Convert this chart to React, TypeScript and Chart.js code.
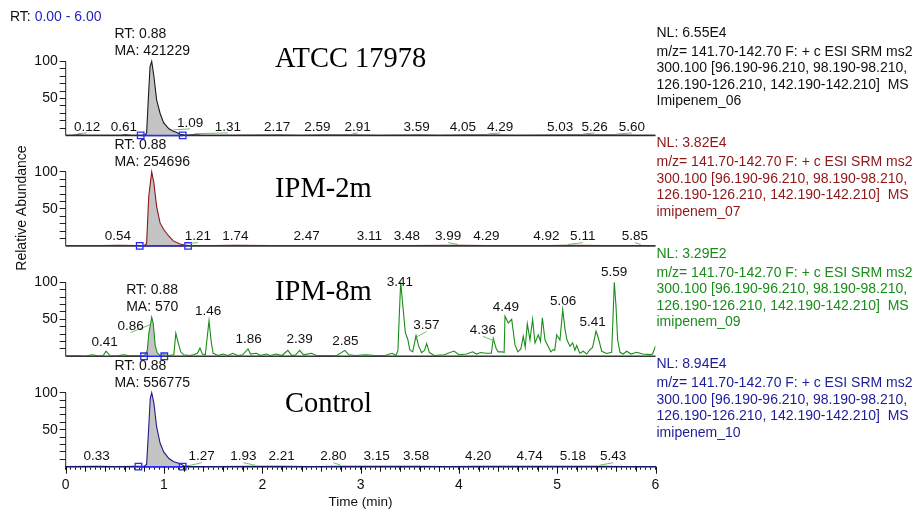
import React, { useEffect, useRef } from 'react';
import { Chart, registerables } from 'chart.js';

Chart.register(...registerables);

const FONT = "'Liberation Sans', Arial, Helvetica, sans-serif";
const SERIF = "'Liberation Serif', 'Times New Roman', serif";

// ---------------- data ----------------
const panelTitles = ['ATCC 17978', 'IPM-2m', 'IPM-8m', 'Control'];
const nlValues = ['6.55E4', '3.82E4', '3.29E2', '8.94E4'];
const fileNames = ['Imipenem_06', 'imipenem_07', 'imipenem_09', 'imipenem_10'];
const maValues = ['421229', '254696', '570', '556775'];
const mainPeakRT = 0.88;
const scanLines = [
  'm/z= 141.70-142.70 F: + c ESI SRM ms2',
  '300.100 [96.190-96.210, 98.190-98.210,',
  '126.190-126.210, 142.190-142.210]  MS',
];
const rtRangeText = '0.00 - 6.00';
const yTickValues = [10, 20, 30, 40, 50, 60, 70, 80, 90, 100];
const yLabeledTicks = [50, 100];
const xMinorTicks = Array.from({ length: 121 }, (_, i) => Math.round(i * 5) / 100);

// integration limits (min)
const integStart = [0.763, 0.753, 0.797, 0.74];
const integEnd = [1.19, 1.245, 1.003, 1.19];

// ATCC 17978 trace
const atccTimes = [0, 0.06, 0.12, 0.18, 0.4, 0.55, 0.61, 0.67, 0.78, 0.81, 0.823, 0.84, 0.858, 0.875, 0.897, 0.925, 0.96, 0.997, 1.05, 1.09, 1.13, 1.163, 1.2, 1.25, 1.31, 1.37, 1.6, 2.17, 2.4, 2.59, 2.91, 3.2, 3.59, 3.8, 4.05, 4.29, 4.6, 5.03, 5.26, 5.6, 5.8, 6];
const atccValues = [0.3, 0.2, 0.9, 0.2, 0.2, 0.3, 0.7, 0.3, 0.4, 1, 3, 48, 93, 100, 80, 48, 30, 17, 9, 6, 4, 1.6, 0.8, 0.5, 1, 0.4, 0.3, 0.5, 0.3, 0.5, 0.5, 0.3, 0.5, 0.3, 0.4, 0.5, 0.3, 0.4, 0.5, 0.5, 0.3, 0.3];

// IPM-2m trace
const ipm2Times = [0, 0.2, 0.54, 0.7, 0.8, 0.823, 0.845, 0.875, 0.897, 0.925, 0.96, 0.997, 1.05, 1.095, 1.163, 1.21, 1.25, 1.5, 1.74, 2.1, 2.47, 2.8, 3.11, 3.48, 3.99, 4.29, 4.6, 4.92, 5.11, 5.5, 5.85, 6];
const ipm2Values = [0.3, 0.2, 0.6, 0.3, 0.5, 3, 67, 100, 85, 53, 31, 22, 13, 6.7, 2.5, 1.2, 0.5, 0.3, 0.6, 0.3, 0.5, 0.3, 0.5, 0.5, 0.6, 0.5, 0.3, 0.5, 0.6, 0.3, 0.5, 0.3];

// IPM-8m trace
const ipm8Times = [
  0, 0.1, 0.2, 0.27, 0.33, 0.38, 0.41, 0.45, 0.52, 0.59,
  0.65, 0.72, 0.78, 0.81, 0.83, 0.845, 0.875, 0.89, 0.91, 0.93,
  0.96, 1.0, 1.05, 1.1, 1.12, 1.145, 1.17, 1.2, 1.26, 1.3,
  1.34, 1.366, 1.39, 1.42, 1.458, 1.48, 1.5, 1.55, 1.6, 1.65,
  1.7, 1.75, 1.8, 1.855, 1.88, 1.94, 1.98, 2.04, 2.08, 2.14,
  2.2, 2.26, 2.3, 2.34, 2.38, 2.42, 2.5, 2.55, 2.65, 2.75,
  2.84, 2.88, 2.95, 3.05, 3.15, 3.25, 3.32, 3.36, 3.38, 3.395,
  3.408, 3.43, 3.455, 3.48, 3.5, 3.53, 3.564, 3.59, 3.62, 3.65,
  3.672, 3.7, 3.75, 3.85, 3.95, 4.0, 4.08, 4.14, 4.18, 4.22,
  4.28, 4.33, 4.35, 4.38, 4.4, 4.44, 4.46, 4.469, 4.503, 4.537,
  4.571, 4.6, 4.63, 4.655, 4.675, 4.696, 4.723, 4.75, 4.774, 4.808,
  4.83, 4.849, 4.876, 4.91, 4.935, 4.96, 4.975, 4.995, 5.028, 5.056,
  5.08, 5.1, 5.13, 5.157, 5.18, 5.198, 5.23, 5.266, 5.3, 5.333,
  5.36, 5.395, 5.418, 5.453, 5.503, 5.554, 5.567, 5.581, 5.598, 5.615,
  5.639, 5.67, 5.707, 5.75, 5.809, 5.87, 5.944, 5.97, 6.0,
];
const ipm8Values = [
  0.5, 1, 0.4, 2, 0.5, 0.8, 7, 1, 0.5, 2,
  0.6, 1, 0.8, 2, 8, 30, 53, 45, 15, 5,
  1, 2, 1, 2, 31, 18, 6, 2, 1, 2,
  4, 11, 3, 2, 48, 20, 4, 1, 3, 1,
  4, 1, 2, 10, 3, 4, 1, 3, 1, 3,
  1, 8, 1, 2, 8, 2, 4, 1, 1, 0.5,
  8, 2, 1, 2, 1, 1, 4, 1, 8, 60,
  100, 68, 32, 23, 9, 6, 28, 14, 5, 8,
  17, 5, 1, 2, 7, 2, 3, 6, 3, 5,
  4, 4, 24, 10, 6, 6, 5, 54, 45, 50,
  15, 6, 10, 27, 12, 44, 22, 50, 18, 29,
  20, 52, 22, 13, 6, 9, 8, 29, 22, 63,
  36, 22, 13.5, 18, 8, 14.5, 4, 6.8, 3, 9,
  12, 34, 25, 6.8, 3.7, 5.4, 50, 100, 68, 22,
  5.4, 3, 6.8, 3, 5.4, 3, 2.3, 3, 13.5,
];

// Control trace
const ctrlTimes = [0, 0.33, 0.5, 0.74, 0.8, 0.823, 0.845, 0.86, 0.875, 0.897, 0.925, 0.96, 0.997, 1.05, 1.095, 1.163, 1.2, 1.27, 1.5, 1.93, 2.21, 2.5, 2.8, 3.15, 3.58, 3.9, 4.2, 4.74, 5.18, 5.43, 5.7, 6];
const ctrlValues = [0.3, 0.6, 0.3, 0.4, 0.6, 3, 54, 92, 100, 86, 54, 32, 20, 11, 7, 4, 1.2, 0.6, 0.3, 0.6, 0.5, 0.3, 0.5, 0.6, 0.5, 0.3, 0.5, 0.5, 0.5, 0.6, 0.3, 0.3];

// peak labels: text, label anchor time, label level (%)
const atccPeakLabels = ['0.12', '0.61', '1.09', '1.31', '2.17', '2.59', '2.91', '3.59', '4.05', '4.29', '5.03', '5.26', '5.60'];
const atccLabelTimes = [0.217, 0.593, 1.265, 1.65, 2.15, 2.56, 2.97, 3.57, 4.04, 4.42, 5.03, 5.38, 5.76];
const atccLabelLevels = [11.5, 11.5, 17, 11.5, 11.5, 11.5, 11.5, 11.5, 11.5, 11.5, 11.5, 11.5, 11.5];

const ipm2PeakLabels = ['0.54', '1.21', '1.74', '2.47', '3.11', '3.48', '3.99', '4.29', '4.92', '5.11', '5.85'];
const ipm2LabelTimes = [0.532, 1.345, 1.727, 2.45, 3.09, 3.47, 3.89, 4.28, 4.89, 5.26, 5.79];
const ipm2LabelLevels = [12.5, 12.5, 12.5, 12.5, 12.5, 12.5, 12.5, 12.5, 12.5, 12.5, 12.5];

const ipm8PeakLabels = ['0.41', '0.86', '1.46', '1.86', '2.39', '2.85', '3.41', '3.57', '4.36', '4.49', '5.06', '5.41', '5.59'];
const ipm8LabelTimes = [0.396, 0.66, 1.45, 1.86, 2.38, 2.845, 3.4, 3.67, 4.245, 4.477, 5.06, 5.36, 5.58];
const ipm8LabelLevels = [18.6, 40, 61, 22.6, 22.6, 20, 100, 41.6, 35, 66, 74.5, 45.6, 114];

const ctrlPeakLabels = ['0.33', '1.27', '1.93', '2.21', '2.80', '3.15', '3.58', '4.20', '4.74', '5.18', '5.43'];
const ctrlLabelTimes = [0.315, 1.383, 1.807, 2.197, 2.724, 3.163, 3.564, 4.195, 4.72, 5.16, 5.57];
const ctrlLabelLevels = [13.5, 13.5, 13.5, 13.5, 13.5, 13.5, 13.5, 13.5, 13.5, 13.5, 13.5];

// title anchors (time of left edge, level %)
const titleTimes = [2.13, 2.13, 2.13, 2.23];
const titleLevels = [102, 76, 86, 83.6];

// ---------------- styles ----------------
const PANEL_IDS = ['yA', 'yB', 'yC', 'yD'];
const traceColors = ['#1a1a1a', '#8e1616', '#1a8c1a', '#1c1c8e'];
const infoColors = ['#111111', '#8e1616', '#1a8c1a', '#1c1c99'];
const PANEL_MAX = 149.2;

const traceTimes = [atccTimes, ipm2Times, ipm8Times, ctrlTimes];
const traceValues = [atccValues, ipm2Values, ipm8Values, ctrlValues];
const peakLabels = [atccPeakLabels, ipm2PeakLabels, ipm8PeakLabels, ctrlPeakLabels];
const labelTimes = [atccLabelTimes, ipm2LabelTimes, ipm8LabelTimes, ctrlLabelTimes];
const labelLevels = [atccLabelLevels, ipm2LabelLevels, ipm8LabelLevels, ctrlLabelLevels];

function interp(ts: number[], vs: number[], t: number) {
  for (let i = 0; i < ts.length - 1; i++) {
    if (t >= ts[i] && t <= ts[i + 1]) {
      const f = (t - ts[i]) / (ts[i + 1] - ts[i] || 1);
      return vs[i] + f * (vs[i + 1] - vs[i]);
    }
  }
  return 0;
}

const overlay = {
  id: 'overlay',
  beforeDatasetsDraw(chart: any) {
    const { ctx, chartArea: ca, scales } = chart;
    ctx.save();
    PANEL_IDS.forEach((id, i) => {
      const ys = scales[id];
      const y0 = ys.getPixelForValue(0);
      const y100 = ys.getPixelForValue(100);
      ctx.strokeStyle = '#222';
      ctx.lineWidth = 1;
      ctx.beginPath();
      ctx.moveTo(ca.left, y0);
      ctx.lineTo(ca.left, y100);
      ctx.stroke();
      if (i < 3) {
        ctx.strokeStyle = '#333';
        ctx.lineWidth = 1.6;
        ctx.beginPath();
        ctx.moveTo(ca.left, y0);
        ctx.lineTo(ca.right, y0);
        ctx.stroke();
      }
    });
    ctx.restore();
  },
  afterDraw(chart: any) {
    const { ctx, chartArea: ca, scales } = chart;
    const xs = scales.x;
    ctx.save();

    // longer x ticks
    ctx.strokeStyle = '#111';
    ctx.lineWidth = 1;
    for (let k = 0; k <= 30; k++) {
      const px = Math.round(xs.getPixelForValue(k * 0.2)) + 0.5;
      const len = k % 5 === 0 ? 7 : 5;
      ctx.beginPath();
      ctx.moveTo(px, ca.bottom);
      ctx.lineTo(px, ca.bottom + len);
      ctx.stroke();
    }

    PANEL_IDS.forEach((id, i) => {
      const ys = scales[id];
      const ts = traceTimes[i];
      const vs = traceValues[i];

      // peak labels with connectors
      ctx.font = `13.5px ${FONT}`;
      ctx.textAlign = 'center';
      ctx.textBaseline = 'middle';
      peakLabels[i].forEach((lab, j) => {
        const lx = xs.getPixelForValue(labelTimes[i][j]);
        const ly = ys.getPixelForValue(labelLevels[i][j]);
        const peakT = parseFloat(lab);
        if (Math.abs(labelTimes[i][j] - peakT) > 0.05) {
          const px = xs.getPixelForValue(peakT);
          const py = ys.getPixelForValue(interp(ts, vs, peakT));
          ctx.strokeStyle = '#6cc06c';
          ctx.lineWidth = 1;
          ctx.beginPath();
          ctx.moveTo(px, py - 1);
          ctx.lineTo(lx, ly + 6);
          ctx.stroke();
        }
        ctx.fillStyle = '#111';
        ctx.fillText(lab, lx, ly);
      });

      // RT / MA label
      let top = 0;
      ts.forEach((t, k) => {
        if (Math.abs(t - mainPeakRT) < 0.05) top = Math.max(top, vs[k]);
      });
      const topY = ys.getPixelForValue(top);
      ctx.font = `14px ${FONT}`;
      const maText = 'MA: ' + maValues[i];
      const w = ctx.measureText(maText).width;
      const left = xs.getPixelForValue(mainPeakRT) - w / 2;
      ctx.textAlign = 'left';
      ctx.fillStyle = '#111';
      ctx.fillText('RT: ' + mainPeakRT.toFixed(2), left, topY - 27);
      ctx.fillText(maText, left, topY - 10);

      // panel title
      ctx.font = `28.5px ${SERIF}`;
      ctx.fillStyle = '#000';
      ctx.fillText(panelTitles[i], xs.getPixelForValue(titleTimes[i]), ys.getPixelForValue(titleLevels[i]));

      // right info text
      ctx.font = `14px ${FONT}`;
      ctx.fillStyle = infoColors[i];
      const tx = ca.right + 1;
      const offs = [8, 27, 43.5, 60, 76.5];
      const lines = ['NL: ' + nlValues[i], ...scanLines, fileNames[i]];
      lines.forEach((ln, k) => ctx.fillText(ln, tx, ys.top + offs[k]));
    });

    // RT range header
    ctx.font = `14px ${FONT}`;
    ctx.textAlign = 'left';
    ctx.textBaseline = 'middle';
    ctx.fillStyle = '#111';
    ctx.fillText('RT:', 10, 17);
    const rw = ctx.measureText('RT: ').width;
    ctx.fillStyle = '#1f1fc0';
    ctx.fillText(rtRangeText, 10 + rw, 17);

    // y title
    ctx.translate(22, 208);
    ctx.rotate(-Math.PI / 2);
    ctx.textAlign = 'center';
    ctx.fillStyle = '#111';
    ctx.fillText('Relative Abundance', 0, 0);
    ctx.restore();
  },
};

function yScale(i: number) {
  return {
    type: 'linear',
    position: 'left',
    stack: 'panels',
    stackWeight: 1,
    weight: 4 - i,
    min: 0,
    max: PANEL_MAX,
    afterBuildTicks: (s: any) => {
      s.ticks = yTickValues.map((v) => ({ value: v }));
    },
    afterFit: (s: any) => {
      s.width = 65.7;
    },
    grid: { drawOnChartArea: false, drawTicks: true, tickLength: 6, color: '#222', lineWidth: 1 },
    border: { display: false },
    ticks: {
      autoSkip: false,
      padding: 2,
      color: '#111',
      font: { size: 14, family: FONT },
      callback: (v: any) => (yLabeledTicks.includes(Number(v)) ? String(v) : ''),
    },
  };
}

export default function App() {
  const ref = useRef<HTMLCanvasElement>(null);
  useEffect(() => {
    document.body.style.margin = '0';
    Chart.defaults.font.family = FONT;
    const datasets: any[] = [];
    PANEL_IDS.forEach((id, i) => {
      const ts = traceTimes[i];
      const vs = traceValues[i];
      const pts = ts.map((t, k) => ({ x: t, y: vs[k] }));
      datasets.push({
        label: 'integration ' + i,
        data: [{ x: integStart[i], y: 0 }, { x: integEnd[i], y: 0 }],
        xAxisID: 'x',
        yAxisID: id,
        borderColor: '#2a2aff',
        borderWidth: 1.5,
        pointStyle: 'rect',
        pointRadius: 4.6,
        pointBackgroundColor: 'rgba(255,255,255,0)',
        pointBorderColor: '#2a2aff',
        pointBorderWidth: 1.3,
        order: 0,
        clip: false,
      });
      datasets.push({
        label: panelTitles[i],
        data: pts,
        xAxisID: 'x',
        yAxisID: id,
        borderColor: traceColors[i],
        borderWidth: 1.1,
        pointRadius: 0,
        tension: 0,
        fill: false,
        order: 1,
      });
      datasets.push({
        label: 'area ' + i,
        data: pts.filter((p) => p.x >= integStart[i] && p.x <= integEnd[i]),
        xAxisID: 'x',
        yAxisID: id,
        borderWidth: 0,
        borderColor: 'rgba(0,0,0,0)',
        backgroundColor: '#c4c4c4',
        pointRadius: 0,
        tension: 0,
        fill: 'origin',
        order: 2,
      });
    });

    const scales: any = {
      x: {
        type: 'linear',
        position: 'bottom',
        min: 0,
        max: 6,
        afterBuildTicks: (s: any) => {
          s.ticks = xMinorTicks.map((v) => ({ value: v }));
        },
        afterFit: (s: any) => {
          s.height = 47.3;
        },
        grid: { drawOnChartArea: false, drawTicks: true, tickLength: 3, color: '#111', lineWidth: 1 },
        border: { display: true, color: '#111', width: 1.5 },
        ticks: {
          autoSkip: false,
          maxRotation: 0,
          minRotation: 0,
          padding: 7,
          color: '#111',
          font: { size: 14, family: FONT },
          callback: (v: any) => {
            const n = Number(v);
            return Math.abs(n - Math.round(n)) < 1e-6 ? String(Math.round(n)) : '';
          },
        },
        title: {
          display: true,
          text: 'Time (min)',
          color: '#111',
          font: { size: 13.5, family: FONT },
          padding: { top: 0, bottom: 3.5 },
        },
      },
    };
    PANEL_IDS.forEach((id, i) => {
      scales[id] = yScale(i);
    });

    const chart = new Chart(ref.current as HTMLCanvasElement, {
      type: 'line',
      data: { datasets },
      options: {
        responsive: false,
        animation: false,
        events: [],
        layout: { padding: { top: 25, right: 260.5, bottom: 0, left: 0 } },
        plugins: { legend: { display: false }, tooltip: { enabled: false }, title: { display: false } },
        scales,
      },
      plugins: [overlay],
    } as any);
    return () => chart.destroy();
  }, []);
  return (
    <div style={{ width: 916, height: 514, position: 'relative', background: '#fff' }}>
      <canvas ref={ref} width={916} height={514} style={{ display: 'block' }} />
    </div>
  );
}
